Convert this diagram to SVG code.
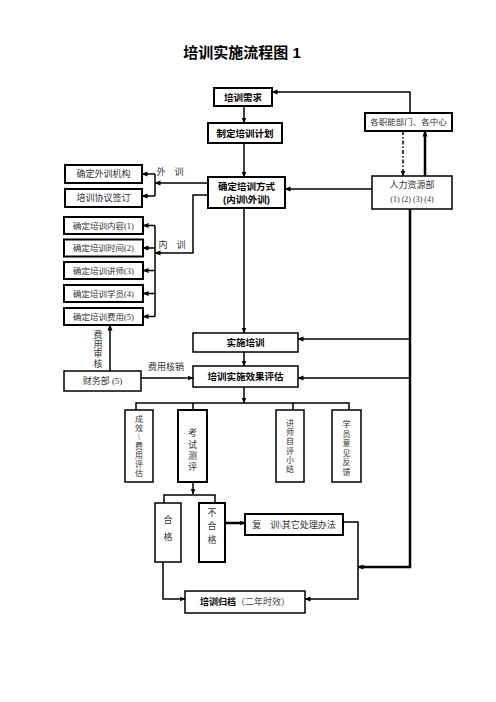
<svg xmlns="http://www.w3.org/2000/svg" width="496" height="702" viewBox="0 0 496 702">
<style>
.b{fill:#fff;stroke:#000;stroke-width:1.5}
.bt{fill:#fff;stroke:#000;stroke-width:2}
.t{font-family:"Liberation Serif","Noto Sans CJK SC",serif;font-size:9px;fill:#333;text-anchor:middle;dominant-baseline:central}
.v{font-family:"Liberation Serif","Noto Sans CJK SC",serif;font-size:8px;fill:#333;text-anchor:middle;dominant-baseline:central}
.h{font-family:"Liberation Sans","Noto Sans CJK SC",sans-serif;font-weight:bold;font-size:9.5px;fill:#000;text-anchor:middle;dominant-baseline:central}
.l{fill:none;stroke:#000;stroke-width:1.5}
.lt{fill:none;stroke:#000;stroke-width:2.5}
</style>
<defs>
<marker id="a" markerWidth="6" markerHeight="6" refX="5.5" refY="3" orient="auto" markerUnits="userSpaceOnUse"><path d="M0,0.5 L6,3 L0,5.5 Z" fill="#000"/></marker>
</defs>
<rect width="496" height="702" fill="#fff"/>
<text x="242" y="52" style="font-family:'Liberation Sans','Noto Sans CJK SC',sans-serif;font-weight:bold;font-size:15px;text-anchor:middle;dominant-baseline:central">培训实施流程图 1</text>

<g id="connectors">
<path class="l" d="M244,106 V123" marker-end="url(#a)"/>
<path class="l" d="M244,143 V177" marker-end="url(#a)"/>
<path class="l" d="M244,208 V333" marker-end="url(#a)"/>
<path class="l" d="M244,352 V366" marker-end="url(#a)"/>
<path class="l" d="M244,387 V403" marker-end="url(#a)"/>
<path class="l" d="M136,410 V403 H349 V410 M193,403 V410 M293,403 V410"/>
<path class="l" d="M193,482 V494" marker-end="url(#a)"/>
<path class="l" d="M164,503 V495 H215 V503"/>
<path class="lt" d="M225,523 H245" marker-end="url(#a)"/>
<path class="l" d="M343,522 H358 V599 H305" marker-end="url(#a)"/>
<path class="l" d="M163,562 V599 H185" marker-end="url(#a)"/>
<path class="l" d="M372,189 H285" marker-end="url(#a)"/>
<path class="lt" d="M425,176 V131" marker-end="url(#a)"/>
<path class="l" d="M403,131 V176" stroke-dasharray="4 2 1.5 2" marker-end="url(#a)"/>
<path class="l" d="M410,113 V92 H272" marker-end="url(#a)"/>
<path class="lt" d="M410,209 V567 H358" marker-end="url(#a)"/>
<path class="l" d="M410,339 H298" marker-end="url(#a)"/>
<path class="l" d="M410,378 H298" marker-end="url(#a)"/>
<path class="l" d="M208,183 H155" marker-end="url(#a)"/>
<path class="l" d="M155,174 V196"/>
<path class="l" d="M155,174 H142" marker-end="url(#a)"/>
<path class="l" d="M155,196 H142" marker-end="url(#a)"/>
<path class="l" d="M208,195 H193 V253 H155" marker-end="url(#a)"/>
<path class="l" d="M155,225.5 V316.5"/>
<path class="l" d="M155,225.5 H143" marker-end="url(#a)"/>
<path class="l" d="M155,248 H143" marker-end="url(#a)"/>
<path class="l" d="M155,270.5 H143" marker-end="url(#a)"/>
<path class="l" d="M155,293.5 H143" marker-end="url(#a)"/>
<path class="l" d="M155,316.5 H143" marker-end="url(#a)"/>
<path class="l" d="M141,378 H193" marker-end="url(#a)"/>
<path class="l" d="M110,371 V325" marker-end="url(#a)"/>
<text class="t" x="170" y="172">外　训</text>
<text class="t" x="172" y="245">内　训</text>
<text class="t" x="166" y="367">费用核销</text>
<text class="t" x="98"><tspan x="98" y="335">费</tspan><tspan x="98" y="344.5">用</tspan><tspan x="98" y="354">审</tspan><tspan x="98" y="363.5">核</tspan></text>
</g>

<g id="n1"><rect class="bt" x="214" y="88" width="58" height="18"/><text class="h" x="243" y="97">培训需求</text></g>
<g id="n2"><rect class="bt" x="208" y="123" width="74" height="20"/><text class="h" x="245" y="133">制定培训计划</text></g>
<g id="n3"><rect class="bt" x="208" y="177" width="77" height="31"/><text class="h" x="246.5" y="186">确定培训方式</text><text class="h" x="246.5" y="199">(内训\外训)</text></g>
<g id="n4"><rect class="bt" x="365" y="113" width="87" height="18"/><text class="t" x="408.5" y="122" style="font-size:8.5px">各职能部门、各中心</text></g>
<g id="n5"><rect class="b" x="372" y="176" width="80" height="33"/><text class="t" x="412" y="185">人力资源部</text><text class="t" x="412" y="199" style="font-size:8px">(1) (2) (3) (4)</text></g>
<g id="n6"><rect class="bt" x="65" y="165" width="77" height="18"/><text class="t" x="103.5" y="174">确定外训机构</text></g>
<g id="n7"><rect class="bt" x="65" y="189" width="77" height="18"/><text class="t" x="103.5" y="198">培训协议签订</text></g>
<g id="n8"><rect class="bt" x="64" y="217" width="79" height="17"/><text class="t" x="103.5" y="225.5" style="font-size:8.5px">确定培训内容(1)</text></g>
<g id="n9"><rect class="bt" x="64" y="239.5" width="79" height="17"/><text class="t" x="103.5" y="248" style="font-size:8.5px">确定培训时间(2)</text></g>
<g id="n10"><rect class="bt" x="64" y="262" width="79" height="17"/><text class="t" x="103.5" y="270.5" style="font-size:8.5px">确定培训讲师(3)</text></g>
<g id="n11"><rect class="bt" x="64" y="285" width="79" height="17"/><text class="t" x="103.5" y="293.5" style="font-size:8.5px">确定培训学员(4)</text></g>
<g id="n12"><rect class="bt" x="64" y="308" width="79" height="17"/><text class="t" x="103.5" y="316.5" style="font-size:8.5px">确定培训费用(5)</text></g>
<g id="n13"><rect class="b" x="64" y="371" width="77" height="20"/><text class="t" x="102.5" y="381">财务部 (5)</text></g>
<g id="n14"><rect class="b" x="193" y="333" width="105" height="19"/><text class="h" x="245.5" y="342.5">实施培训</text></g>
<g id="n15"><rect class="b" x="193" y="366" width="105" height="21"/><text class="h" x="245.5" y="376.5">培训实施效果评估</text></g>
<g id="n16"><rect class="b" x="125" y="410" width="28" height="72"/><text class="v"><tspan x="139" y="419">成</tspan><tspan x="139" y="428">效</tspan><tspan x="139" y="437">\</tspan><tspan x="139" y="446">费</tspan><tspan x="139" y="455">用</tspan><tspan x="139" y="464">评</tspan><tspan x="139" y="473">估</tspan></text></g>
<g id="n17"><rect class="bt" x="178" y="410" width="29" height="72"/><text class="t"><tspan x="192.5" y="433">考</tspan><tspan x="192.5" y="444.5">试</tspan><tspan x="192.5" y="456">测</tspan><tspan x="192.5" y="467">评</tspan></text></g>
<g id="n18"><rect class="b" x="276" y="410" width="28" height="72"/><text class="v"><tspan x="290" y="423">讲</tspan><tspan x="290" y="432.2">师</tspan><tspan x="290" y="441.4">自</tspan><tspan x="290" y="450.6">评</tspan><tspan x="290" y="459.8">小</tspan><tspan x="290" y="469">结</tspan></text></g>
<g id="n19"><rect class="b" x="332" y="410" width="29" height="72"/><text class="v"><tspan x="346.5" y="424">学</tspan><tspan x="346.5" y="433.5">员</tspan><tspan x="346.5" y="443">意</tspan><tspan x="346.5" y="452.5">见</tspan><tspan x="346.5" y="462">反</tspan><tspan x="346.5" y="471.5">馈</tspan></text></g>
<g id="n20"><rect class="b" x="155" y="503" width="26" height="59"/><text class="t"><tspan x="168" y="520">合</tspan><tspan x="168" y="537">格</tspan></text></g>
<g id="n21"><rect class="bt" x="199" y="503" width="26" height="59"/><text class="t"><tspan x="212" y="513">不</tspan><tspan x="212" y="526">合</tspan><tspan x="212" y="540">格</tspan></text></g>
<g id="n22"><rect class="bt" x="245" y="514" width="98" height="21"/><text class="t" x="294" y="524.5">复　训\其它处理办法</text></g>
<g id="n23"><rect class="b" x="185" y="591" width="120" height="22"/><text x="245" y="602" style="font-family:'Liberation Serif','Noto Sans CJK SC',serif;font-size:9px;text-anchor:middle;dominant-baseline:central"><tspan style="font-weight:bold;fill:#000">培训归档</tspan><tspan style="fill:#444">（二年时效）</tspan></text></g>
</svg>
